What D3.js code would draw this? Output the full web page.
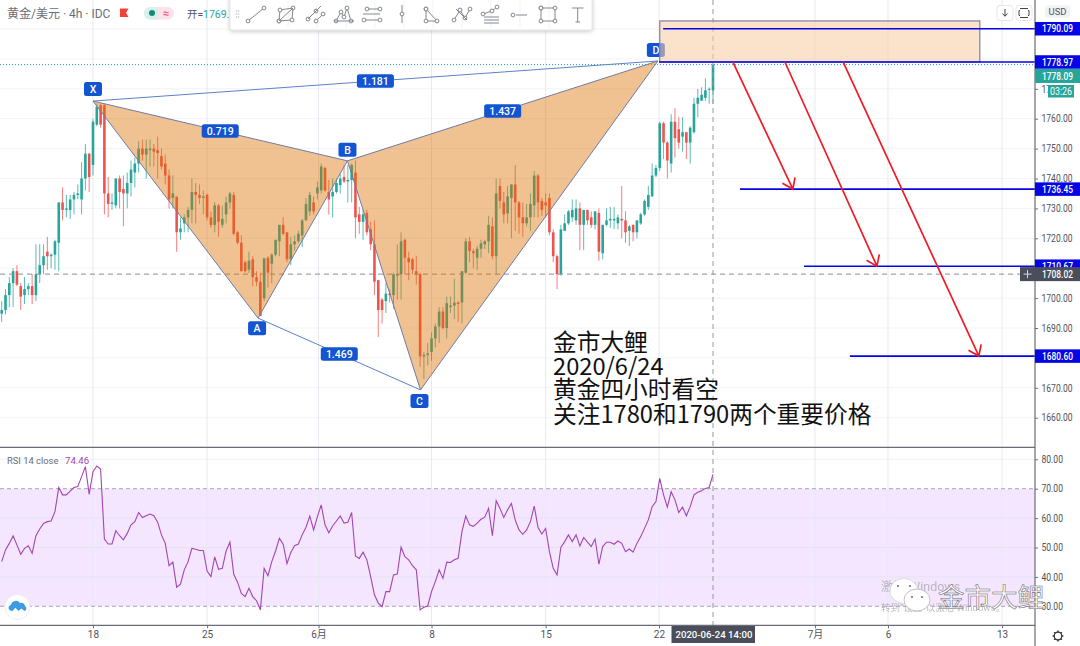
<!DOCTYPE html>
<html><head><meta charset="utf-8">
<script src="https://cdn.jsdelivr.net/npm/d3@7/dist/d3.min.js"></script>
<style>
html,body{margin:0;padding:0;background:#fff;overflow:hidden}
svg{display:block;font-family:Roboto,"Noto Sans CJK SC",sans-serif}
</style></head><body><svg id="c" width="1080" height="646"></svg>
<script>
const opens=[1694.8,1696,1701,1705,1709,1704,1701,1703,1704,1701,1708,1711,1715.5,1714,1714.5,1718.5,1732,1729.5,1729.5,1733,1734.5,1733,1740,1748.3,1744.5,1758,1764.5,1764.5,1735,1731.5,1731,1740,1736.5,1735,1738.5,1742,1745,1750,1748,1749.5,1750,1749.5,1747.5,1745,1741,1733.5,1733.9,1722,1725,1727,1729.5,1735.5,1734.5,1733.5,1734.5,1727,1724.5,1731,1724.5,1728,1732,1734.5,1722,1718.5,1712,1709.5,1713,1707,1705.5,1700,1713.5,1711.5,1714.5,1719,1724.5,1722,1713,1718,1719,1721,1726,1729,1732,1735,1736,1743.5,1735.5,1734,1735.5,1737.8,1740.5,1739,1739.5,1742,1728,1725.5,1728.5,1723,1718,1706,1699.5,1699,1701.5,1701,1707.5,1708,1719.5,1713.5,1713,1709,1708,1680.5,1681,1682,1686.5,1690.5,1695.5,1690,1697,1697.5,1698.5,1698.5,1708.5,1719,1715.7,1713.5,1716.5,1718,1719,1724,1714,1737.5,1732,1728.3,1733.5,1738,1732,1727,1725,1727,1731,1741,1732.5,1732,1733.5,1722,1714,1708,1722.5,1725,1727,1726,1730,1724.5,1729.5,1727,1724.5,1728.5,1715,1724.5,1726,1726,1725,1726.5,1726,1722.5,1724.5,1722,1725,1728,1730.5,1734,1741,1743.5,1758.5,1752,1745,1759,1756.5,1754,1755.5,1752,1755.5,1765,1766,1767,1769.7,1769.5];
const highs=[1699,1703,1707,1710,1711,1705,1707,1705,1708,1718,1718,1718,1720.5,1715,1719.5,1732,1737,1734.5,1734.5,1735.5,1738,1745.5,1751.5,1748.5,1760,1765,1765,1765,1740.5,1735,1740,1741,1741,1742,1746,1747,1752.5,1753,1753,1753,1751.5,1754,1750,1748,1743,1741,1734,1727,1728,1730.5,1740,1738.5,1738,1736,1735,1729,1732,1731.5,1731,1734,1735.5,1735.5,1722.5,1721,1712.5,1715.5,1714,1709,1708.5,1713.3,1714,1715,1719.5,1724.5,1727,1722,1720.5,1721,1722.5,1726.5,1733.5,1735.5,1734,1739,1745,1744,1739.5,1740,1740,1741.5,1744.5,1744.5,1745,1746,1730.5,1729.5,1729.5,1725.5,1726,1706,1700,1705,1703,1708.5,1718,1722,1720,1715.5,1713.5,1714,1708.5,1682,1685,1688.5,1691.5,1697,1697,1700.5,1700.5,1706.5,1699,1709,1720,1720.5,1716.5,1717.5,1719.5,1719.5,1727.5,1727,1740,1740,1735.5,1737.5,1738,1744.5,1732.5,1732,1731.5,1735,1742.5,1741.5,1733.5,1735,1735,1723,1714.5,1724.5,1728,1729.5,1733,1733,1732,1729.5,1729.5,1729,1729,1730,1724.5,1730,1730.5,1730.5,1728,1737.5,1729,1724.5,1724.5,1726,1728.5,1733,1737.5,1745,1744.5,1759,1759,1752.5,1761.5,1763.5,1760.5,1760.5,1755.5,1757.5,1767,1770,1770.5,1773.5,1770.5,1778.1];
const lows=[1692,1694.5,1697,1697,1704,1696,1698,1701,1698,1699,1705,1708,1709.5,1710,1709.5,1709,1726,1727,1726.5,1728,1733,1728,1736,1735.5,1741,1757.5,1757,1728,1727,1729.5,1730,1730,1724,1730,1734,1737,1742,1746,1740,1744,1744,1740,1743,1738,1730,1730,1715.5,1719.5,1722,1722,1725,1725,1731.5,1728,1726,1723.5,1722,1720.5,1723.5,1725,1730,1721,1718,1709,1708.5,1708.5,1704,1704,1694,1699,1703.5,1705,1714,1714,1721,1712,1711,1716,1718.5,1717,1726,1727.5,1728,1733,1735,1735.5,1728,1727,1735,1735,1738.5,1732,1732,1720,1721.5,1719.5,1721,1716,1701,1687,1691.5,1695,1698.5,1696.5,1699.5,1699.5,1708,1706,1708,1704.5,1677,1673,1677.5,1679,1683.5,1685,1689.5,1686.5,1695,1693,1692,1691.5,1708,1712,1710,1709.5,1713.5,1716.5,1715,1713,1708,1730,1725,1725,1720,1722.5,1721.5,1720.5,1724,1722.5,1727,1727,1727.5,1727,1721,1712,1703,1707.5,1722.5,1724.5,1725.5,1724.5,1716,1716,1724.5,1723.5,1723,1712.5,1713,1724,1723.5,1723,1723,1720,1718.5,1717.5,1719,1720,1724.5,1727.5,1729.5,1734,1740.5,1742.5,1746.5,1740,1742,1747,1750,1749,1746.5,1745,1755,1760.5,1766,1766,1765,1765];
const closes=[1696,1701,1705,1709,1704.5,1700.5,1703,1704,1701,1708,1711,1714,1714,1714.5,1719,1732,1729.5,1730,1733,1734.5,1735,1740,1748.3,1740.5,1759,1764,1758,1735,1731.5,1732,1740,1735.5,1735,1738.5,1743,1745,1750,1748,1750,1750,1749,1748.5,1744,1741,1733,1735,1722,1723.3,1727,1729.5,1735.5,1734.5,1733.5,1734,1727,1724.5,1731,1725.5,1726.5,1732,1735,1721.5,1718.5,1709,1709,1712.5,1707,1705.5,1694,1713.3,1708.5,1714.5,1719.5,1724.5,1721.5,1713,1718,1719,1721.5,1726,1731.5,1734.5,1729,1737,1744,1736,1733,1735.5,1738.5,1740,1739,1739.5,1744.5,1727,1725.5,1728,1722,1718,1705.5,1696,1696,1701.5,1701,1708,1708,1719,1713.5,1712,1709.5,1708,1680.5,1681,1681.5,1686.5,1690.5,1695.5,1690,1698.3,1697.5,1698.5,1698,1709,1719,1715.7,1715,1716.5,1718.3,1719,1724.5,1714,1735,1732.5,1728,1734,1738,1732,1727,1725,1727,1731.5,1741,1732,1729.5,1731,1722,1714,1708,1723,1725,1729,1729.5,1730,1724.5,1729.5,1726,1724.5,1729,1715.5,1724.5,1726,1726.5,1726.5,1727,1726,1722,1724,1722,1726,1728,1732.5,1734.5,1741,1743.5,1758.5,1752,1746,1759,1753.5,1752,1755.5,1752,1757,1765,1767,1768,1769.5,1770,1778.1];
const rsiValues=[45.2,49.2,51.4,54,50.9,47.7,49.7,50.6,48,54,56.3,58.2,58.8,59,62.2,70.4,67.9,67.9,69.2,70.4,70.7,74.1,77.5,68.1,75.8,77.7,76.7,52.9,51.2,51.2,55.7,54,52.6,54.8,57.7,58.8,61.9,60.2,60.8,61.4,60.8,58.6,54.3,51.4,43.8,45,36.5,37.5,42.4,45.2,49.7,49.4,49,49,42,40.1,46.8,42.6,42.9,48.8,51.8,40.9,38.2,34.4,33.3,36.1,33.3,31.9,28.8,42.9,40.4,45.2,48.8,53.1,51.1,44.5,48.3,50.6,51.2,54.3,56.9,60.7,56,60.5,64.5,57.7,55,57.3,59,60.7,58.3,58.6,61.9,47.1,46.3,48.4,45.8,40.1,33.9,31.1,29.9,35,35,40.7,41,50.1,46.9,45.8,43.8,42.4,28.8,29.7,30.1,35,38.4,42.4,39.5,45,44.9,45.8,46.3,55.4,60.7,57.7,57.2,58.3,59.6,60.3,63.3,54,65.9,63.3,60.2,62.8,65,59.4,56,54.5,56,58.8,64.1,56.8,54.6,56.5,48.6,42.9,40.7,50,52,54.3,52,54.3,50.5,53.4,51.8,50.3,52.9,44.3,50.3,51.8,51.8,51.1,52.2,51.4,48.6,49.5,48.4,51.4,53.7,56.5,59.4,63.9,65.6,73.5,67.9,63.7,69,66.2,61.9,63.7,60.8,63.9,67.9,68.8,69.3,70.1,70.4,74.9];
const priceTicks=[1790,1780,1770,1760,1750,1740,1730,1720,1710,1700,1690,1680,1670,1660];
const rsiTicks=[80,70,60,50,40,30];
const dateTickIdx=[24,54,83.3,113,143,172.8,213.8,233,263];
const dateTickLabels=["18","25","6月","8","15","22","7月","6","13"];
const patternNames=["X","A","B","C","D"];
const patternIdx=[24,67.4,90.9,110.1,172.5];
const patternPrice=[1765.9,1693.3,1745.9,1669.3,1779.3];
const ratioLabels=["0.719","1.181","1.437","1.469"];
const levelPrices=[1790.09,1778.97,1736.45,1710.67,1680.60];
const levelStartIdx=[173.9,172.8,194.1,210.9,223];
const zonePrices=[1792.7,1778.97];
const zoneIdx=[173,257.15];
const arrowStartIdx=[192.2,205.9,221.2];
const arrowEndIdx=[208,230.1,256.9];
const arrowEndPrice=[1736.45,1710.67,1680.60];
const lastPrice=1778.09, crossPrice=1708.02, rsiLast=74.46;
const noteLines=["金市大鲤","2020/6/24","黄金四小时看空","关注1780和1790两个重要价格"];

const UP="#26a69a",DN="#ef5350",GRID="#f0f3fa",AX="#6a6d78",TXT="#50535e",PILL="#1254d1",LVL="#0505e6";
const W=1080,H=646,R=1035,mainB=447.3,rsiB=625.3;
const x=d3.scaleLinear().domain([0,187]).range([1.7,713]);
const y=d3.scaleLinear().domain([1660,1760]).range([417.7,118.7]);
const yr=d3.scaleLinear().domain([30,80]).range([606.3,459.3]);
const svg=d3.select("#c");
const g=svg.append("g");
g.append("rect").attr("width",W).attr("height",H).attr("fill","#fff");

// RSI band
g.append("rect").attr("x",0).attr("width",R).attr("y",yr(70)).attr("height",yr(30)-yr(70)).attr("fill","#f3e6fe");
// grid
g.selectAll(".hg").data(priceTicks).join("line").attr("x1",0).attr("x2",R).attr("y1",d=>y(d)).attr("y2",d=>y(d)).attr("stroke",GRID);
g.selectAll(".rg").data(rsiTicks.filter(d=>d!==70&&d!==30)).join("line").attr("x1",0).attr("x2",R).attr("y1",d=>yr(d)).attr("y2",d=>yr(d)).attr("stroke","#e6e2f2").attr("stroke-opacity",d=>d===80?.5:1);
g.selectAll(".vg").data(dateTickIdx).join("line").attr("x1",d=>x(d)).attr("x2",d=>x(d)).attr("y1",0).attr("y2",rsiB).attr("stroke","#e8e9f1");
// rsi dashed
g.selectAll(".rd").data([70,30]).join("line").attr("x1",0).attr("x2",R).attr("y1",d=>yr(d)).attr("y2",d=>yr(d)).attr("stroke","#a9a4b5").attr("stroke-dasharray","4 3");

// last price dotted
g.append("line").attr("x1",0).attr("x2",R).attr("y1",y(lastPrice)).attr("y2",y(lastPrice)).attr("stroke",UP).attr("stroke-dasharray","1 2");

// candles
const idx=d3.range(opens.length);
const cg=g.append("g");
cg.selectAll("line").data(idx).join("line")
 .attr("x1",i=>x(i)).attr("x2",i=>x(i)).attr("y1",i=>y(highs[i])).attr("y2",i=>y(lows[i]))
 .attr("stroke",i=>closes[i]>=opens[i]?UP:DN).attr("stroke-width",1).attr("stroke-opacity",.75);
cg.selectAll("rect").data(idx).join("rect")
 .attr("x",i=>x(i)-1.3).attr("width",2.6)
 .attr("y",i=>y(Math.max(opens[i],closes[i])))
 .attr("height",i=>Math.max(1,Math.abs(y(opens[i])-y(closes[i]))))
 .attr("fill",i=>closes[i]>=opens[i]?UP:DN);

// crosshair
g.append("line").attr("x1",0).attr("x2",R).attr("y1",y(crossPrice)).attr("y2",y(crossPrice)).attr("stroke","#8b8d96").attr("stroke-dasharray","5 4");
g.append("line").attr("x1",x(187)).attr("x2",x(187)).attr("y1",0).attr("y2",rsiB).attr("stroke","#9598a1").attr("stroke-dasharray","5 4");

// harmonic pattern
const P=patternIdx.map((d,i)=>[x(d),y(patternPrice[i])]);
const [pX,pA,pB,pC,pD]=P;
const poly=g.append("g");
[[pX,pA,pB],[pB,pC,pD]].forEach(t=>poly.append("polygon").attr("points",t.map(p=>p.join(",")).join(" ")).attr("fill","rgb(220,111,0)").attr("fill-opacity",.43));
[[pX,pA],[pA,pB],[pX,pB],[pB,pC],[pC,pD],[pB,pD]].forEach(s=>poly.append("line").attr("x1",s[0][0]).attr("y1",s[0][1]).attr("x2",s[1][0]).attr("y2",s[1][1]).attr("stroke","#6f7ca6").attr("stroke-width",1));
[[pX,pD],[pA,pC]].forEach(s=>poly.append("line").attr("x1",s[0][0]).attr("y1",s[0][1]).attr("x2",s[1][0]).attr("y2",s[1][1]).attr("stroke","#5b82c9").attr("stroke-width",1));
function pill(cx,cy,w,h,t,fs){
 const l=g.append("g");
 l.append("rect").attr("x",cx-w/2).attr("y",cy-h/2).attr("width",w).attr("height",h).attr("rx",2.5).attr("fill",PILL);
 l.append("text").attr("x",cx).attr("y",cy+3.7).attr("text-anchor","middle").attr("font-size",fs).attr("font-weight",500).attr("fill","#fff").text(t);
}
const letterPos=[[pX[0],pX[1]-12],[pA[0]-1,pA[1]+10],[pB[0],pB[1]-11],[pC[0]-1,pC[1]+11],[pD[0]-2,pD[1]-11]];
patternNames.forEach((n,i)=>pill(letterPos[i][0],letterPos[i][1],18,14,n,10.5));
const mid=(a,b,t)=>[a[0]+(b[0]-a[0])*t,a[1]+(b[1]-a[1])*t];
const ratioPos=[mid(pX,pB,.5),mid(pX,pD,.5),mid(pB,pD,.5),mid(pA,pC,.5)];
ratioLabels.forEach((t,i)=>pill(ratioPos[i][0],ratioPos[i][1],37,13.5,t,10.5));

// target zone
g.append("rect").attr("x",x(zoneIdx[0])).attr("width",x(zoneIdx[1])-x(zoneIdx[0])).attr("y",y(zonePrices[0])).attr("height",y(zonePrices[1])-y(zonePrices[0]))
 .attr("fill","rgb(248,205,165)").attr("fill-opacity",.58).attr("stroke","#7f7fa6").attr("stroke-width",1.2);

// levels
levelPrices.forEach((p,i)=>g.append("line").attr("x1",x(levelStartIdx[i])).attr("x2",R).attr("y1",y(p)).attr("y2",y(p)).attr("stroke",LVL).attr("stroke-width",1.6));

// arrows
arrowStartIdx.forEach((s,i)=>{
 const a=[x(s),y(levelPrices[1])],b=[x(arrowEndIdx[i]),y(arrowEndPrice[i])];
 const ang=Math.atan2(b[1]-a[1],b[0]-a[0]),L=12;
 const w1=[b[0]-L*Math.cos(ang-.62),b[1]-L*Math.sin(ang-.62)],w2=[b[0]-L*Math.cos(ang+.62),b[1]-L*Math.sin(ang+.62)];
 g.append("path").attr("d",d3.line()([a,b])+d3.line()([w1,b,w2])).attr("fill","none").attr("stroke","#ee1c25").attr("stroke-width",1.7);
});

// RSI line
g.append("path").datum(rsiValues).attr("fill","none").attr("stroke","#a445b2").attr("stroke-width",1.1)
 .attr("d",d3.line().x((d,i)=>x(i+187-(rsiValues.length-1))).y(d=>yr(d)));

// note text
const noteY=[351,375,398,423];
noteLines.forEach((t,i)=>g.append("text").attr("x",553).attr("y",noteY[i]).attr("font-family",'"Noto Sans CJK SC"').attr("font-size",23.7).attr("fill","#111").text(t));

// pane borders
[mainB,rsiB].forEach(b=>g.append("line").attr("x1",0).attr("x2",W).attr("y1",b).attr("y2",b).attr("stroke",AX).attr("stroke-width",1.2));
g.append("rect").attr("x",R).attr("y",0).attr("width",W-R).attr("height",H).attr("fill","#fff");
g.append("line").attr("x1",R).attr("x2",R).attr("y1",0).attr("y2",H).attr("stroke",AX).attr("stroke-width",1.2);

// axes
function styleAxis(a){
 a.select(".domain").remove();
 a.selectAll("line").attr("stroke",AX);
 a.selectAll("text").attr("fill",TXT).attr("font-size",10).attr("font-family","Roboto");
}
function narrow(a){ a.selectAll("text").each(function(){const t=this.textContent;this.setAttribute("textLength",t.length===7?31:21.5);this.setAttribute("lengthAdjust","spacingAndGlyphs");}); }
const ax1=g.append("g").attr("transform",`translate(${R},0)`).call(d3.axisRight(y).tickValues(priceTicks.filter(d=>d<1775)).tickSize(3).tickPadding(3.5).tickFormat(d3.format(".2f")));
styleAxis(ax1);narrow(ax1);
const ax2=g.append("g").attr("transform",`translate(${R},0)`).call(d3.axisRight(yr).tickValues(rsiTicks).tickSize(3).tickPadding(3.5).tickFormat(d3.format(".2f")));
styleAxis(ax2);narrow(ax2);
const ax3=g.append("g").attr("transform",`translate(0,${rsiB})`).call(d3.axisBottom(x).tickValues(dateTickIdx).tickSize(3).tickPadding(3).tickFormat((d,i)=>dateTickLabels[i]));
styleAxis(ax3);
ax3.selectAll("text").attr("font-family",'Roboto,"Noto Sans CJK SC"');

// level labels
function priceLabel(yy,p,fill,tc,h){
 g.append("rect").attr("x",R).attr("y",yy-h/2).attr("width",W-R).attr("height",h).attr("fill",fill);
 g.append("text").attr("x",1042).attr("y",yy+3.6).attr("font-size",10).attr("font-weight",500).attr("fill",tc).attr("textLength",31).attr("lengthAdjust","spacingAndGlyphs").text(d3.format(".2f")(p));
}
levelPrices.forEach(p=>priceLabel(y(p),p,LVL,"#fff",13.5));
// last price label sits just below the 1778.97 tag, as the axis pushes it aside
priceLabel(y(levelPrices[1])+14,lastPrice,UP,"#fff",14);
// countdown
g.append("rect").attr("x",1048).attr("y",85).attr("width",26).attr("height",12.5).attr("fill",UP);
g.append("text").attr("x",1061).attr("y",94.8).attr("text-anchor","middle").attr("font-size",10).attr("fill","#fff").attr("textLength",22).attr("lengthAdjust","spacingAndGlyphs").text("03:26");
// cross label
priceLabel(y(crossPrice),crossPrice,"#4a4e5a","#fff",14);
g.append("rect").attr("x",1020).attr("y",y(crossPrice)-7).attr("width",15).attr("height",14).attr("fill","#4a4e5a");
g.append("path").attr("d",`M1023.5 ${y(crossPrice)}h8M1027.5 ${y(crossPrice)-4}v8`).attr("stroke","#d8d9dd").attr("stroke-width",1);
// date box
g.append("rect").attr("x",671.5).attr("y",626).attr("width",83.5).attr("height",17).attr("fill","#4a4e5a");
g.append("text").attr("x",675.5).attr("y",638).attr("font-size",9.6).attr("font-weight",500).attr("fill","#fff").text("2020-06-24");
g.append("text").attr("x",728).attr("y",638).attr("font-size",9.6).attr("font-weight",500).attr("fill","#fff").text("14:00");

// header
g.append("text").attr("x",7).attr("y",18).attr("font-family",'Roboto,"Noto Sans CJK SC"').attr("font-size",12).attr("fill","#6a6d78").text("黄金/美元 · 4h · IDC");
g.append("path").attr("d","M120 8.5h8.5l-2.5 4.2 2.5 4.2H120z").attr("fill","#f44336");
g.append("rect").attr("x",144).attr("y",7).attr("width",30).attr("height",12.5).attr("rx",6.2).attr("fill","#fbe3ea");
g.append("path").attr("d","M144 13.2a6.2 6.2 0 0 1 6.2-6.2H158v12.5h-7.8a6.2 6.2 0 0 1-6.2-6.2z").attr("fill","#d8f0ec");
g.append("circle").attr("cx",152).attr("cy",13).attr("r",3).attr("fill","#13897b");
g.append("text").attr("x",166).attr("y",17).attr("text-anchor","middle").attr("font-size",11).attr("font-weight",700).attr("fill","#ef5d86").text("≈");
g.append("text").attr("x",187).attr("y",18).attr("font-family",'Roboto,"Noto Sans CJK SC"').attr("font-size",10.5).attr("fill",TXT).text("开=");
g.append("text").attr("x",203).attr("y",18).attr("font-size",10.5).attr("fill",UP).text("1769.73");

// toolbar
g.append("rect").attr("x",230).attr("y",-3).attr("width",362).attr("height",33).attr("rx",2).attr("fill","#fff").attr("stroke","#e8e9ec").style("filter","drop-shadow(0 1px 2px rgba(0,0,0,.22))");
const tb=g.append("g").attr("fill","none").attr("stroke","#787b86").attr("stroke-width",.9);
const dot=(a,b)=>tb.append("circle").attr("cx",a).attr("cy",b).attr("r",1.9).attr("fill","#fff");
const ln=(a,b,c,d)=>tb.append("line").attr("x1",a).attr("y1",b).attr("x2",c).attr("y2",d);
const poly2=(pts)=>{tb.append("path").attr("d",d3.line()(pts));pts.forEach(p=>dot(p[0],p[1]));};
d3.range(236.5,240,2).forEach(i=>d3.range(11,20,3).forEach(j=>tb.append("circle").attr("cx",i).attr("cy",j).attr("r",.5).attr("stroke","#c8c9cf")));
[259,288,317,346,375,404,433,462,491,520,549].forEach((s,i)=>{if(i>0)ln(s+0,1,s+0,28).attr("stroke","#f1f2f4");});
poly2([[248,21],[264,8]]);
poly2([[279,21],[292,20],[293,8],[280,10],[279,21]]);ln(279,21,293,8);
poly2([[308,19],[316,11]]);poly2([[316,21],[323,14]]);ln(308,19,321,6);
poly2([[336,21],[341,12],[344,17],[347,8],[351,21]]);ln(334,21,354,21);
poly2([[367,9],[380,9]]);ln(363,14,380,14);poly2([[364,20],[380,20]]);
ln(402,5,402,23);dot(402,14);
poly2([[426,9],[426,21],[437,21],[426,9]]);
poly2([[454,20],[460,10],[465,18],[470,9]]);ln(456,9,467,20);
poly2([[483,14],[492,11],[497,7]]);ln(484,17,499,17);ln(484,20,499,20);ln(484,23,499,23);
poly2([[513,15]]);ln(516,15,527,15);
poly2([[541,8],[555,8],[555,21],[541,21],[541,8]]);
tb.append("path").attr("d","M572 8h11.5M577.7 8v14M575.5 22h4.5");

// right buttons
[[997,"M1005 9v7M1002.5 13.5l2.5 2.8 2.5-2.8"],[1016,"M1020 10.5h-1v5h1M1028 10.5h1v5h-1M1020 8.5h8M1020 17.5h8"]].forEach(b=>{
 g.append("rect").attr("x",b[0]).attr("y",5.5).attr("width",16).attr("height",15).attr("rx",3).attr("fill","#fff").attr("stroke","#e5e6ea");
 g.append("path").attr("d",b[1]).attr("fill","none").attr("stroke","#444");
});
g.append("rect").attr("x",1045).attr("y",5.5).attr("width",25).attr("height",12).attr("rx",2).attr("fill","#f1f2f5");
g.append("text").attr("x",1057.5).attr("y",15).attr("text-anchor","middle").attr("font-size",9.5).attr("fill",TXT).text("USD");

// gear
g.append("circle").attr("cx",1058).attr("cy",636).attr("r",3.8).attr("fill","none").attr("stroke","#333").attr("stroke-width",1.3);
d3.range(0,360,45).forEach(a=>{const c=Math.cos(a*Math.PI/180),s=Math.sin(a*Math.PI/180);
 g.append("line").attr("x1",1058+3.8*c).attr("y1",636+3.8*s).attr("x2",1058+5.4*c).attr("y2",636+5.4*s).attr("stroke","#333").attr("stroke-width",1.4);});

// RSI header
g.append("text").attr("x",7).attr("y",464).attr("font-size",9.4).attr("fill","#6a6d78").text("RSI 14 close");
g.append("text").attr("x",65).attr("y",464).attr("font-size",9.6).attr("fill","#a445b2").text(rsiLast.toFixed(2));

// logo
g.append("circle").attr("cx",17.5).attr("cy",607).attr("r",12.5).attr("fill","#fff").attr("stroke","#f2ecf5");
g.append("path").attr("d","M10 610.5a3.2 3.2 0 0 1 1-5.8a5 5 0 0 1 9-1.6a3.6 3.6 0 0 1 5 3a2.6 2.6 0 0 1-.6 4.8l-3-2.4-3 2.4-3-3.2-3 3.2z").attr("fill","#3d9be0");

// watermark
const wm=g.append("g");
wm.append("text").attr("x",881).attr("y",591).attr("font-family",'Roboto,"Noto Sans CJK SC"').attr("font-size",12.5).attr("fill","#a7a7ad").attr("opacity",.75).text("激活 Windows");
wm.append("text").attr("x",881).attr("y",611).attr("font-family",'Roboto,"Noto Sans CJK SC"').attr("font-size",9.5).attr("fill","#a7a7ad").attr("opacity",.75).text("转到“设置”以激活 Windows。");
wm.append("ellipse").attr("cx",904).attr("cy",591).attr("rx",14).attr("ry",12.5).attr("fill","#fff").attr("stroke","#d6d3da").attr("stroke-width",.8);
wm.append("ellipse").attr("cx",917).attr("cy",600).attr("rx",13).attr("ry",11).attr("fill","#fff").attr("stroke","#c2c0c6").attr("stroke-width",1);
[[898,586],[910,586],[912,597],[922,597]].forEach(p=>wm.append("circle").attr("cx",p[0]).attr("cy",p[1]).attr("r",1.1).attr("fill","#77757c"));
wm.append("text").attr("x",938).attr("y",607).attr("font-family",'"Noto Sans CJK SC"').attr("font-size",26.5).attr("fill","#fff").attr("stroke","#6c6a72").attr("stroke-width",.55).text("金市大鲤");
</script></body></html>
